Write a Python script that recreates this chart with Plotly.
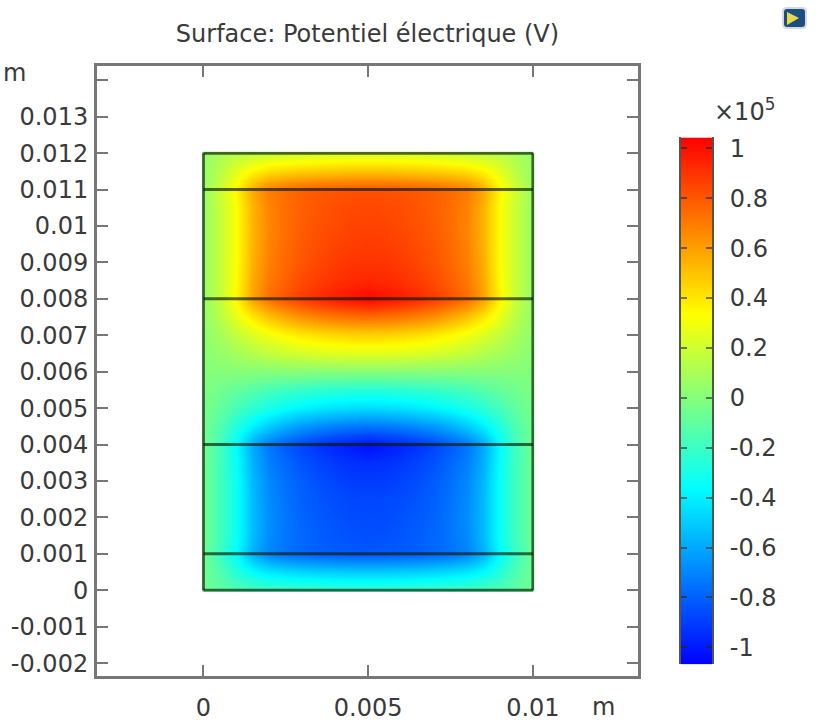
import plotly.graph_objects as go

# Potential in units of 1e5 V. Rows: y = 0 .. 0.012 (step 0.0005).
# Columns: x = 0 .. 0.005 (step 0.0005); the field is mirror-symmetric about x = 0.005.
x_half = [0, 0.0005, 0.001, 0.0015, 0.002, 0.0025, 0.003, 0.0035, 0.004, 0.0045, 0.005]
y_vals = [0, 0.0005, 0.001, 0.0015, 0.002, 0.0025, 0.003, 0.0035, 0.004, 0.0045, 0.005,
          0.0055, 0.006, 0.0065, 0.007, 0.0075, 0.008, 0.0085, 0.009, 0.0095, 0.01,
          0.0105, 0.011, 0.0115, 0.012]
potential_half = [
    [-0.05, -0.10, -0.14, -0.16, -0.18, -0.19, -0.20, -0.21, -0.22, -0.22, -0.22],
    [-0.05, -0.14, -0.26, -0.36, -0.42, -0.45, -0.47, -0.48, -0.49, -0.50, -0.50],
    [-0.05, -0.20, -0.36, -0.58, -0.70, -0.75, -0.78, -0.80, -0.81, -0.82, -0.82],
    [-0.05, -0.18, -0.33, -0.55, -0.68, -0.74, -0.78, -0.81, -0.83, -0.84, -0.85],
    [-0.05, -0.18, -0.33, -0.55, -0.67, -0.74, -0.79, -0.82, -0.84, -0.86, -0.86],
    [-0.05, -0.18, -0.33, -0.55, -0.68, -0.75, -0.80, -0.83, -0.86, -0.87, -0.88],
    [-0.05, -0.18, -0.33, -0.56, -0.69, -0.76, -0.81, -0.85, -0.88, -0.90, -0.90],
    [-0.05, -0.18, -0.34, -0.58, -0.71, -0.78, -0.84, -0.88, -0.91, -0.93, -0.94],
    [-0.04, -0.18, -0.36, -0.60, -0.74, -0.82, -0.88, -0.93, -0.97, -1.00, -1.03],
    [-0.04, -0.14, -0.27, -0.40, -0.50, -0.58, -0.64, -0.68, -0.71, -0.73, -0.74],
    [-0.03, -0.09, -0.17, -0.24, -0.30, -0.35, -0.39, -0.42, -0.44, -0.45, -0.46],
    [-0.02, -0.05, -0.09, -0.13, -0.17, -0.20, -0.22, -0.24, -0.25, -0.26, -0.26],
    [0.00, 0.00, 0.00, 0.00, 0.00, 0.00, 0.00, 0.00, 0.00, 0.00, 0.00],
    [0.02, 0.05, 0.09, 0.13, 0.17, 0.20, 0.22, 0.24, 0.25, 0.26, 0.26],
    [0.03, 0.09, 0.17, 0.24, 0.30, 0.35, 0.39, 0.42, 0.44, 0.45, 0.46],
    [0.04, 0.14, 0.27, 0.40, 0.50, 0.58, 0.64, 0.68, 0.71, 0.73, 0.74],
    [0.04, 0.18, 0.36, 0.60, 0.74, 0.82, 0.88, 0.93, 0.97, 1.00, 1.03],
    [0.05, 0.18, 0.34, 0.58, 0.71, 0.78, 0.84, 0.88, 0.91, 0.93, 0.94],
    [0.05, 0.18, 0.33, 0.56, 0.69, 0.76, 0.81, 0.85, 0.88, 0.90, 0.90],
    [0.05, 0.18, 0.33, 0.55, 0.68, 0.75, 0.80, 0.83, 0.86, 0.87, 0.88],
    [0.05, 0.18, 0.33, 0.55, 0.67, 0.74, 0.79, 0.82, 0.84, 0.86, 0.86],
    [0.05, 0.18, 0.33, 0.55, 0.68, 0.74, 0.78, 0.81, 0.83, 0.84, 0.85],
    [0.05, 0.20, 0.36, 0.58, 0.70, 0.75, 0.78, 0.80, 0.81, 0.82, 0.82],
    [0.05, 0.14, 0.26, 0.36, 0.42, 0.45, 0.47, 0.48, 0.49, 0.50, 0.50],
    [0.05, 0.10, 0.14, 0.16, 0.18, 0.19, 0.20, 0.21, 0.22, 0.22, 0.22],
]
x_right = [0.0055, 0.006, 0.0065, 0.007, 0.0075, 0.008, 0.0085, 0.009, 0.0095, 0.01]
x_vals = x_half + x_right
potential = [row + row[-2::-1] for row in potential_half]

x_edges = [0, 0.01]
y_layers = [0, 0.001, 0.004, 0.008, 0.011, 0.012]
x_ticks = [0, 0.005, 0.01]
x_labels = ["0", "0.005", "0.01"]
y_ticks = [-0.002, -0.001, 0, 0.001, 0.002, 0.003, 0.004, 0.005, 0.006, 0.007,
           0.008, 0.009, 0.01, 0.011, 0.012, 0.013]
y_labels = ["-0.002", "-0.001", "0", "0.001", "0.002", "0.003", "0.004", "0.005", "0.006",
            "0.007", "0.008", "0.009", "0.01", "0.011", "0.012", "0.013"]
y_minor_ticks = [0.014]
cb_ticks = [-1, -0.8, -0.6, -0.4, -0.2, 0, 0.2, 0.4, 0.6, 0.8, 1]
cb_labels = ["-1", "-0.8", "-0.6", "-0.4", "-0.2", "0", "0.2", "0.4", "0.6", "0.8", "1"]
c_min, c_max = -1.068, 1.044
cb_levels = [-1.068, -0.36, 0, 0.36, 1.044]

TXT = "#3a3a3a"
FONT = "DejaVu Sans"
FS = 24
W, H = 820, 728
L, R, T, B = 97, 638, 65, 678
CB_L, CB_R, CB_T, CB_B = 681, 712, 137, 666
Y_SHIFT = 2  # rendered picture sits this far lower than the layout fractions say


def fx(px):
    return px / W


def fy(py):
    return 1 - (py - Y_SHIFT) / H


colorscale = [[0, "rgb(0,0,255)"], [0.335, "rgb(0,255,255)"], [0.5, "rgb(128,255,128)"],
              [0.665, "rgb(255,255,0)"], [1, "rgb(255,0,0)"]]
edge_line = dict(color="rgba(10,30,10,0.68)", width=3)

fig = go.Figure()
fig.add_trace(go.Heatmap(x=x_vals, y=y_vals, z=potential, zsmooth="best", zmin=c_min, zmax=c_max,
                         colorscale=colorscale, showscale=False, hoverinfo="skip"))
# Geometry outline: the horizontal layer boundaries and the two vertical edges
for y0 in y_layers:
    fig.add_trace(go.Scatter(x=x_edges, y=[y0, y0], mode="lines", hoverinfo="skip",
                             showlegend=False, line=edge_line))
for x0 in x_edges:
    fig.add_trace(go.Scatter(x=[x0, x0], y=[y_layers[0], y_layers[-1]], mode="lines", hoverinfo="skip",
                             showlegend=False, line=edge_line))
# Colour bar, drawn on its own axes so that its ticks can sit inside on both sides
fig.add_trace(go.Heatmap(x=[0, 1], y=cb_levels, z=[[v, v] for v in cb_levels], zsmooth="best",
                         zmin=c_min, zmax=c_max, colorscale=colorscale, showscale=False,
                         hoverinfo="skip", xaxis="x2", yaxis="y2"))

# The smoothed heatmap runs half a cell past its outer grid points: white bands trim it to the geometry
gap_x, gap_y = 0.00004, 0.00004
far_x, far_y = 0.0004, 0.0004
trim = [
    (-far_x, -far_y, -gap_x, 0.012 + far_y),
    (0.01 + gap_x, -far_y, 0.01 + far_x, 0.012 + far_y),
    (-far_x, -far_y, 0.01 + far_x, -gap_y),
    (-far_x, 0.012 + gap_y, 0.01 + far_x, 0.012 + far_y),
]
shapes = [dict(type="rect", xref="x", yref="y", layer="above", x0=a, y0=b, x1=c, y1=d,
               fillcolor="white", line=dict(width=0)) for a, b, c, d in trim]
# Small application icon, top right
shapes.append(dict(type="path", xref="paper", yref="paper", layer="above",
                   path="M {} {} L {} {} Q {} {} {} {} L {} {} Q {} {} {} {} L {} {} Q {} {} {} {} L {} {} Q {} {} {} {} Z".format(
                       fx(787), fy(7), fx(802), fy(7), fx(806), fy(7), fx(806), fy(11),
                       fx(806), fy(23), fx(806), fy(27), fx(802), fy(27),
                       fx(787), fy(27), fx(783), fy(27), fx(783), fy(23),
                       fx(783), fy(11), fx(783), fy(7), fx(787), fy(7)),
                   fillcolor="#1d4f7c", line=dict(color="#d5d8e8", width=2)))
shapes.append(dict(type="path", xref="paper", yref="paper", layer="above",
                   path="M {} {} L {} {} L {} {} Z".format(fx(787), fy(11), fx(799), fy(17), fx(787), fy(24)),
                   fillcolor="#e8d94a", line=dict(width=0)))

axis_line = dict(showline=True, linecolor="#777777", linewidth=3, mirror="allticks",
                 ticks="inside", ticklen=11, tickwidth=2, tickcolor="#777777",
                 showgrid=False, zeroline=False, automargin=False,
                 tickfont=dict(family=FONT, size=FS, color=TXT))
fig.update_layout(
    width=W, height=H, autosize=False,
    margin=dict(l=0, r=0, t=0, b=0),
    paper_bgcolor="white", plot_bgcolor="white", showlegend=False,
    title=dict(text="Surface: Potentiel électrique (V)", xref="paper", x=fx((L + R) / 2), xanchor="center",
               yref="paper", y=fy(33), yanchor="middle",
               font=dict(family=FONT, size=FS, color=TXT)),
    xaxis=dict(domain=[fx(L), fx(R)], range=[-0.00323, 0.01319], tickmode="array",
               tickvals=x_ticks, ticktext=x_labels, ticklabelstandoff=8, **axis_line),
    yaxis=dict(domain=[fy(B), fy(T)], range=[-0.00236, 0.0144], tickmode="array",
               tickvals=y_ticks, ticktext=y_labels, ticklabelstandoff=1,
               minor=dict(tickmode="array", tickvals=y_minor_ticks, ticks="inside", ticklen=11,
                          tickwidth=2, tickcolor="#777777", showgrid=False),
               **axis_line),
    xaxis2=dict(domain=[fx(CB_L), fx(CB_R)], range=[0, 1], anchor="y2", visible=False),
    yaxis2=dict(domain=[fy(CB_B), fy(CB_T)], range=[c_min, c_max], anchor="x2", side="right",
                tickmode="array", tickvals=cb_ticks, ticktext=cb_labels,
                showline=True, linecolor="rgba(40,45,30,0.8)", linewidth=2, mirror="ticks",
                ticks="inside", ticklen=6, tickwidth=2, tickcolor="rgba(30,40,30,0.6)",
                showgrid=False, zeroline=False, ticklabelstandoff=11,
                tickfont=dict(family=FONT, size=FS, color=TXT)),
    annotations=[
        dict(text="m", xref="paper", yref="paper", x=fx(14), y=fy(72),
             xanchor="center", yanchor="middle", showarrow=False,
             font=dict(family=FONT, size=FS, color=TXT)),
        dict(text="m", xref="paper", yref="paper", x=fx(603), y=fy(709),
             xanchor="center", yanchor="middle", showarrow=False,
             font=dict(family=FONT, size=FS, color=TXT)),
        dict(text="×10<sup>5</sup>", xref="paper", yref="paper", x=fx(744), y=fy(109),
             xanchor="center", yanchor="middle", showarrow=False,
             font=dict(family=FONT, size=FS, color=TXT)),
    ],
    shapes=shapes,
)
fig.write_html("out.html", post_script="document.body.style.margin='0';",
               config={"displayModeBar": False})
